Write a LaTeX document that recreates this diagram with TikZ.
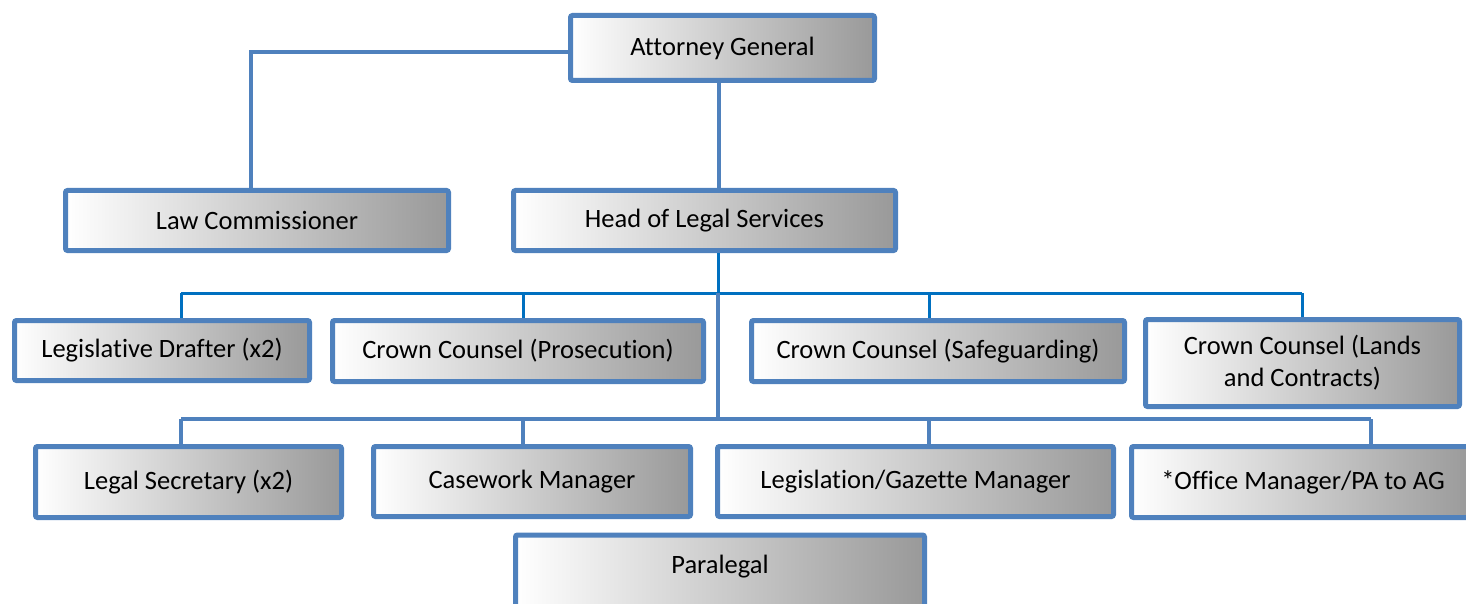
\documentclass[tikz,border=0pt]{standalone}
\usepackage{fontspec}
\setmainfont[Ligatures={NoCommon}]{Carlito}
\definecolor{boxblue}{HTML}{4F81BD}
\definecolor{busblue}{HTML}{0070C0}
\begin{document}
\begin{tikzpicture}[x=1pt,y=-1pt,
  box/.style={draw=boxblue, line width=5pt, rounded corners=2pt, left color=white, right color=black!40,
    inner sep=0pt, align=center, font=\fontsize{26.5}{32}\selectfont, text=black},
  conn/.style={draw=boxblue, line width=4pt},
  busline/.style={draw=busblue, line width=3pt}]
\useasboundingbox (0,0) rectangle (1466,604);
\clip (0,0) rectangle (1466,604);
% connectors
\coordinate (b1) at (718,293);
\coordinate (b2) at (718,419);
\coordinate (u1) at (181,293);
\coordinate (u2) at (523,293);
\coordinate (u3) at (929,293);
\coordinate (u4) at (1302,293);
\coordinate (l1) at (181,419);
\coordinate (l2) at (523,419);
\coordinate (l3) at (929,419);
\coordinate (l4) at (1371,419);
% nodes
\node[box, minimum width=304pt, minimum height=65pt] (ag) at (722.5,48) {Attorney General};
\node[box, minimum width=383pt, minimum height=60pt] (law) at (257,220.5) {Law Commissioner};
\node[box, minimum width=382pt, minimum height=60pt] (head) at (704.5,220.5) {Head of Legal Services};
\node[box, minimum width=295pt, minimum height=60pt] (ld) at (162,350.5) {Legislative Drafter (x2)};
\node[box, minimum width=371pt, minimum height=61pt] (pros) at (518,351) {Crown Counsel (Prosecution)};
\node[box, minimum width=373pt, minimum height=61pt] (safe) at (938,351) {Crown Counsel (Safeguarding)};
\node[box, minimum width=314pt, minimum height=87pt] (lands) at (1302.5,363) {Crown Counsel (Lands\\and Contracts)};
\node[box, minimum width=306pt, minimum height=71pt] (sec) at (188.5,482) {Legal Secretary (x2)};
\node[box, minimum width=317pt, minimum height=70pt] (case) at (532,481.5) {Casework Manager};
\node[box, minimum width=396pt, minimum height=70pt] (gaz) at (915.5,481.5) {Legislation/Gazette Manager};
\node[box, minimum width=343pt, minimum height=71pt] (office) at (1303,482) {*Office Manager/PA to AG};
\node[box, minimum width=409pt, minimum height=80pt] (para) at (720,575) {\raisebox{8pt}[\height][\depth]{Paralegal}};
% lines
\draw[conn] (ag.west |- 0,52) -| (law.north -| 251,0);
\draw[conn] (ag.south -| 719,0) -- (head.north -| 719,0);
\draw[busline] (head.south -| b1) -- (b1);
\draw[busline] (u1) -- (u4);
\draw[busline] (u1) -- (u1 |- ld.north);
\draw[busline] (u2) -- (u2 |- pros.north);
\draw[busline] (u3) -- (u3 |- safe.north);
\draw[busline] (u4) -- (u4 |- lands.north);
\draw[conn] (b1) -- (b2);
\draw[conn] (l1) -- (l4);
\draw[conn] (l1) -- (l1 |- sec.north);
\draw[conn] (l2) -- (l2 |- case.north);
\draw[conn] (l3) -- (l3 |- gaz.north);
\draw[conn] (l4) -- (l4 |- office.north);
\end{tikzpicture}
\end{document}
